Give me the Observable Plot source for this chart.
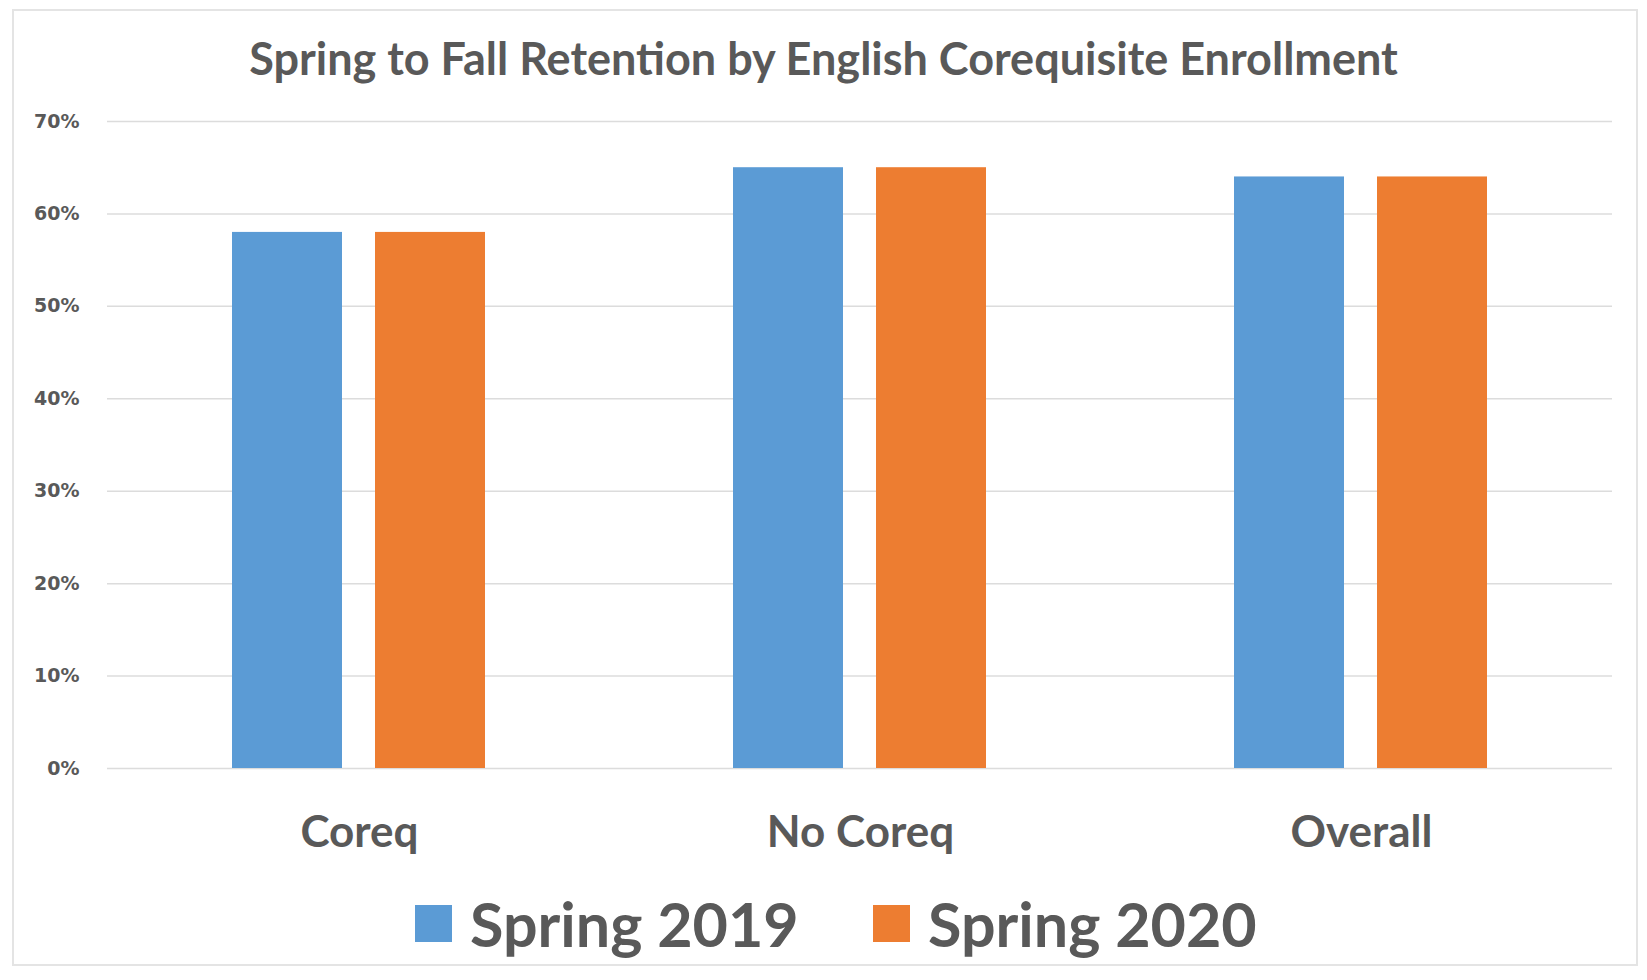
<!DOCTYPE html>
<html>
<head>
<meta charset="utf-8">
<script src="https://cdn.jsdelivr.net/npm/d3@7"></script>
<script src="https://cdn.jsdelivr.net/npm/@observablehq/plot@0.6"></script>
<style>
  html, body { margin: 0; padding: 0; background: #ffffff; }
  body { width: 1647px; height: 980px; position: relative; overflow: hidden; font-family: Lato, "Open Sans", sans-serif; }
  #frame { position: absolute; left: 12px; top: 9px; width: 1626px; height: 957px; border: 2px solid #e4e4e4; box-sizing: border-box; }
  #title { position: absolute; left: 0; width: 1647px; top: 36px; text-align: center; font-size: 45px; font-weight: 700; color: #595959; line-height: 1; white-space: nowrap; }
  .layer { position: absolute; left: 0; top: 0; }
  #legend { position: absolute; top: 893px; left: 0; width: 1647px; height: 60px; }
  .item { position: absolute; top: 0; height: 60px; display: flex; align-items: center; }
  .sw { width: 37px; height: 37px; margin-right: 18px; }
  .lt { font-size: 61px; font-weight: 700; color: #595959; line-height: 1; }
</style>
</head>
<body>
<div id="frame"></div>
<div id="title">Spring to Fall Retention by English Corequisite Enrollment</div>
<div id="grid" class="layer"></div>
<div id="bars" class="layer"></div>
<div id="legend"></div>
<script>
const categories = ["Coreq", "No Coreq", "Overall"];
const series = ["Spring 2019", "Spring 2020"];
const spring2019 = [0.58, 0.65, 0.64];
const spring2020 = [0.58, 0.65, 0.64];
const yTicks = [0, 0.1, 0.2, 0.3, 0.4, 0.5, 0.6, 0.7];
const colors = ["#5B9BD5", "#ED7D31"];

const data = [];
categories.forEach((c, i) => {
  data.push({category: c, series: series[0], value: spring2019[i]});
  data.push({category: c, series: series[1], value: spring2020[i]});
});

const common = {
  width: 1647,
  height: 880,
  marginTop: 121,
  marginBottom: 112,
  marginLeft: 107,
  marginRight: 35,
  style: {fontFamily: "Lato, 'Open Sans', sans-serif", color: "#595959", background: "transparent"}
};

// Layer 1: gridlines and y axis across the full plot width
const gridPlot = Plot.plot({
  ...common,
  y: {domain: [0, 0.7], label: null},
  x: {domain: categories, axis: null},
  marks: [
    Plot.gridY(yTicks, {stroke: "#dcdcdc", strokeOpacity: 1, strokeWidth: 1.5}),
    Plot.axisY(yTicks, {tickSize: 0, tickPadding: 28, tickFormat: d3.format(".0%"), fontSize: 19, fontWeight: 700, fontFamily: "'DejaVu Sans', sans-serif", label: null})
  ]
});
document.getElementById("grid").appendChild(gridPlot);

// Layer 2: grouped bars and category labels
const barPlot = Plot.plot({
  ...common,
  y: {domain: [0, 0.7], axis: null},
  fx: {domain: categories, paddingInner: 0.494, paddingOuter: 0.247, label: null},
  x: {domain: series, paddingInner: 0.229, paddingOuter: 0, axis: null},
  color: {domain: series, range: colors},
  marks: [
    Plot.barY(data, {fx: "category", x: "series", y: "value", fill: "series"}),
    Plot.axisFx({anchor: "bottom", tickSize: 0, tickPadding: 47, fontSize: 44, fontWeight: 700, label: null})
  ]
});
document.getElementById("bars").appendChild(barPlot);

const legend = document.getElementById("legend");
const legendLefts = [415, 873];
series.forEach((s, i) => {
  const item = document.createElement("div");
  item.className = "item";
  item.style.left = legendLefts[i] + "px";
  const sw = document.createElement("div");
  sw.className = "sw";
  sw.style.background = colors[i];
  const lt = document.createElement("div");
  lt.className = "lt";
  lt.textContent = s;
  item.appendChild(sw);
  item.appendChild(lt);
  legend.appendChild(item);
});
</script>
</body>
</html>
